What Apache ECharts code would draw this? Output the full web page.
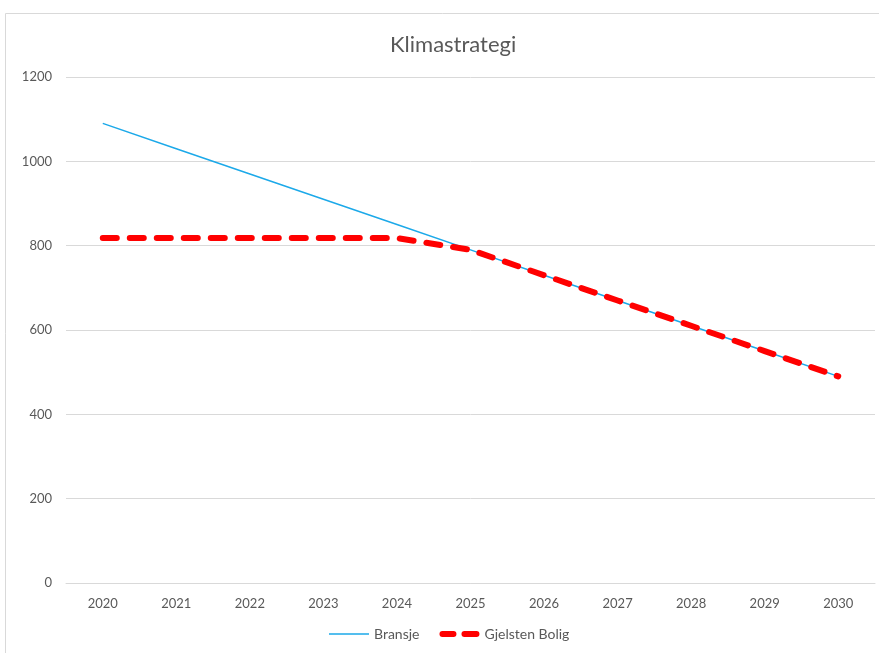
<!DOCTYPE html>
<html>
<head>
<meta charset="utf-8">
<script src="https://cdn.jsdelivr.net/npm/echarts@6/dist/echarts.min.js"></script>
<style>
  html, body { margin: 0; padding: 0; background: #fff; }
  #main { width: 879px; height: 653px; }
</style>
</head>
<body>
<div id="main"></div>
<script>
// data
const years = ['2020', '2021', '2022', '2023', '2024', '2025', '2026', '2027', '2028', '2029', '2030']
const bransje = [1090, 1030, 970, 910, 850, 790, 730, 670, 610, 550, 490]
const gjelsten = [818, 818, 818, 818, 818, 790, 730, 670, 610, 550, 490]

const font = 'Lato, "Noto Sans", sans-serif'
const chart = echarts.init(document.getElementById('main'))

// legend icons: thin line / two rounded dashes (empty subpaths keep the box 40x6)
const thinIcon = 'path://M0,0 L0,0 Z M0,6 L0,6 Z M0,2.3 L40,2.3 L40,3.7 L0,3.7 Z'
const dashIcon = 'path://M0,0 L0,0 Z M40,6 L40,6 Z M3,0 L14,0 A3,3 0 0 1 14,6 L3,6 A3,3 0 0 1 3,0 Z M25,0 L37,0 A3,3 0 0 1 37,6 L25,6 A3,3 0 0 1 25,0 Z'

chart.setOption({
  animation: false,
  title: {
    text: 'Klimastrategi',
    left: 385,
    top: 29,
    textStyle: { fontFamily: font, fontSize: 22, fontWeight: 'normal', color: '#595959' }
  },
  graphic: [{
    type: 'rect',
    shape: { x: 5.5, y: 13.5, width: 890, height: 700 },
    style: { fill: 'none', stroke: '#d9d9d9', lineWidth: 1 },
    silent: true
  }],
  legend: {
    bottom: 7,
    left: 324,
    itemWidth: 40,
    itemHeight: 6,
    itemGap: 20,
    textStyle: { fontFamily: font, fontSize: 14, color: '#595959' },
    data: [
      { name: 'Bransje', icon: thinIcon, itemStyle: { color: '#1ca9e9' } },
      { name: 'Gjelsten Bolig', icon: dashIcon, itemStyle: { color: '#ff0000' } }
    ]
  },
  grid: { left: 66, right: 4, top: 77, bottom: 70 },
  xAxis: {
    type: 'category',
    data: years,
    boundaryGap: true,
    axisLine: { show: true, lineStyle: { color: '#d9d9d9' } },
    axisTick: { show: false },
    axisLabel: { fontFamily: font, fontSize: 13, color: '#595959', margin: 14 }
  },
  yAxis: {
    type: 'value',
    min: 0,
    max: 1200,
    interval: 200,
    axisLine: { show: false },
    axisTick: { show: false },
    splitLine: { lineStyle: { color: '#d9d9d9' } },
    axisLabel: { fontFamily: font, fontSize: 13, color: '#595959', margin: 14, formatter: v => String(v) }
  },
  series: [
    {
      name: 'Bransje',
      type: 'line',
      data: bransje,
      symbol: 'none',
      itemStyle: { color: '#1ca9e9' },
      lineStyle: { color: '#1ca9e9', width: 1.5 }
    },
    {
      name: 'Gjelsten Bolig',
      type: 'line',
      data: gjelsten,
      symbol: 'none',
      itemStyle: { color: '#ff0000' },
      lineStyle: { color: '#ff0000', width: 6, type: [14, 13], cap: 'round', join: 'round' }
    }
  ]
})
</script>
</body>
</html>
